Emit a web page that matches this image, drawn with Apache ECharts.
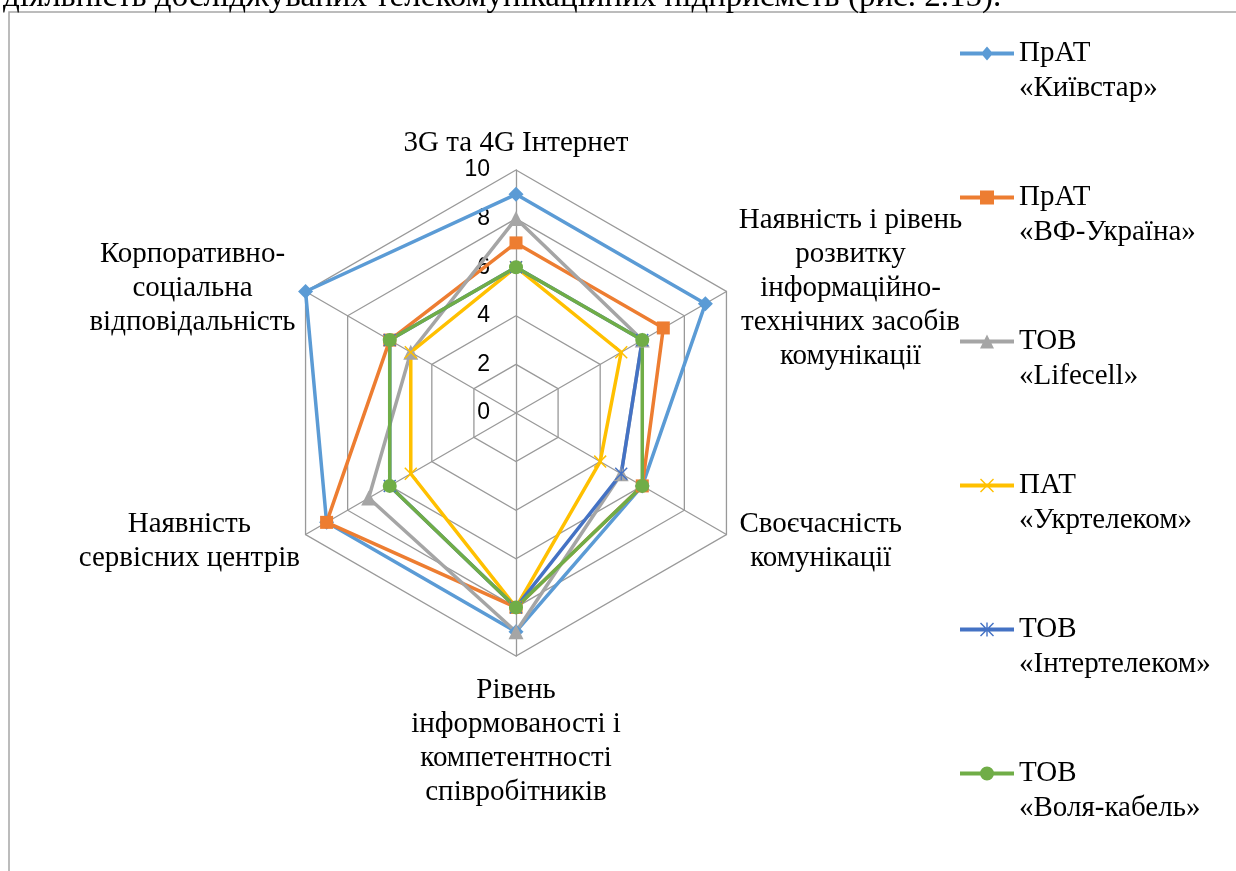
<!DOCTYPE html>
<html><head><meta charset="utf-8">
<script src="https://cdn.jsdelivr.net/npm/echarts@6/dist/echarts.min.js"></script>
<style>html,body{margin:0;padding:0;background:#fff;}#c{width:1236px;height:871px;}</style>
</head><body><div id="c"></div>
<script>
// Indicators in the reference's clockwise order (starting at top)
const categories = [
  '3G та 4G Інтернет',
  'Наявність і рівень\nрозвитку\nінформаційно-\nтехнічних засобів\nкомунікації',
  'Своєчасність\nкомунікації',
  'Рівень\nінформованості і\nкомпетентності\nспівробітників',
  'Наявність\nсервісних центрів',
  'Корпоративно-\nсоціальна\nвідповідальність'
];
const companies = [
  'ПрАТ «Київстар»',
  'ПрАТ «ВФ-Україна»',
  'ТОВ «Lifecell»',
  'ПАТ «Укртелеком»',
  'ТОВ «Інтертелеком»',
  'ТОВ «Воля-кабель»'
];
const kyivstar     = [9, 9, 6, 9, 9, 10];
const vfUkraine    = [7, 7, 6, 8, 9, 6];
const lifecell     = [8, 6, 5, 9, 7, 5];
const ukrtelecom   = [6, 5, 4, 8, 5, 5];
const intertelecom = [6, 6, 5, 8, 6, 6];
const voliaKabel   = [6, 6, 6, 8, 6, 6];
const axisMin = 0, axisMax = 10, axisStep = 2;
const captionText = 'діяльність досліджуваних телекомунікаційних підприємств (рис. 2.15).';

const seriesValues = [kyivstar, vfUkraine, lifecell, ukrtelecom, intertelecom, voliaKabel];
const colors = ['#5B9BD5', '#ED7D31', '#A5A5A5', '#FFC000', '#4472C4', '#70AD47'];

const SERIF = "'Liberation Serif','Times New Roman',serif";
const SANS = "'Liberation Sans',Arial,sans-serif";

// ECharts lays indicators counter-clockwise; reorder to reproduce clockwise layout
const order = [0, 5, 4, 3, 2, 1];
const reorder = arr => order.map(i => arr[i]);

const nameGaps = [10, 7, 13, 17, 13, 7];
const nameWidths = [320, 236, 166, 240, 210, 214];

const rich = {};
categories.forEach((c, i) => {
  rich['n' + i] = { width: nameWidths[i], align: 'center', fontSize: 29, lineHeight: 34, fontFamily: SERIF, color: '#000' };
});

const indicator = order.map(i => ({ name: categories[i], min: axisMin, max: axisMax, nameGap: nameGaps[i] }));
indicator[0].axisLabel = { show: true, fontSize: 23, fontFamily: SANS, color: '#000', margin: 26 };

const xPath = 'path://M0 8L8 0L100 92L92 100ZM92 0L100 8L8 100L0 92Z';
const starPath = 'path://M0 8L8 0L100 92L92 100ZM92 0L100 8L8 100L0 92ZM46 0L54 0L54 100L46 100Z';
const symbols = ['diamond', 'rect', 'triangle', xPath, starPath, 'circle'];
const symbolSizes = [15, 13, 15, 13, 13, 14];

const LINE = 'M0 5H54V9H0Z';
const legendIcons = [
  'path://' + LINE + 'M27 0L33 7L27 14L21 7Z',
  'path://' + LINE + 'M20 0H34V14H20Z',
  'path://' + LINE + 'M27 0L34 14L20 14Z',
  'path://' + LINE + 'M20 1L21 0L34 13L33 14ZM21 14L20 13L33 0L34 1Z',
  'path://' + LINE + 'M20 1L21 0L34 13L33 14ZM21 14L20 13L33 0L34 1ZM26.3 0H27.7V14H26.3Z',
  'path://' + LINE + 'M20 7A7 7 0 1 1 34 7A7 7 0 1 1 20 7Z'
];

const chart = echarts.init(document.getElementById('c'), null, { renderer: 'canvas' });
chart.setOption({
  animation: false,
  backgroundColor: '#fff',
  graphic: [
    { type: 'rect', z: -1, shape: { x: 9, y: 12, width: 1400, height: 1000 },
      style: { fill: '#fff', stroke: '#A6A6A6', lineWidth: 1.5 } },
    { type: 'text', x: 3, y: -3, style: { text: captionText, fontSize: 33, fontFamily: SERIF, fill: '#000', verticalAlign: 'middle', align: 'left' } }
  ],
  legend: {
    orient: 'vertical', left: 960, top: 1, padding: 0,
    itemWidth: 54, itemHeight: 14, itemGap: 39,
    selectedMode: false,
    data: companies.map((n, i) => ({ name: n, icon: legendIcons[i] })),
    formatter: name => '\n' + name.replace(' ', '\n'),
    textStyle: { fontFamily: SERIF, fontSize: 29, lineHeight: 35, color: '#000' }
  },
  radar: {
    center: [516, 413],
    radius: 243,
    startAngle: 90,
    shape: 'polygon',
    splitNumber: (axisMax - axisMin) / axisStep,
    indicator: indicator,
    axisName: {
      color: '#000',
      formatter: (name) => {
        const k = categories.indexOf(name);
        return name.split('\n').map(l => '{n' + k + '|' + l + '}').join('\n');
      },
      rich: rich
    },
    axisLine: { lineStyle: { color: '#999999', width: 1.3 } },
    splitLine: { lineStyle: { color: '#999999', width: 1.3 } },
    splitArea: { show: false },
    axisTick: { show: false },
    axisLabel: { show: false }
  },
  series: seriesValues.map((vals, i) => ({
    type: 'radar',
    name: companies[i],
    symbol: symbols[i],
    symbolSize: symbolSizes[i],
    itemStyle: { color: colors[i], borderWidth: 0 },
    lineStyle: { color: colors[i], width: 3.5 },
    emphasis: { disabled: true },
    data: [{ name: companies[i], value: reorder(vals) }]
  }))
});
</script></body></html>
